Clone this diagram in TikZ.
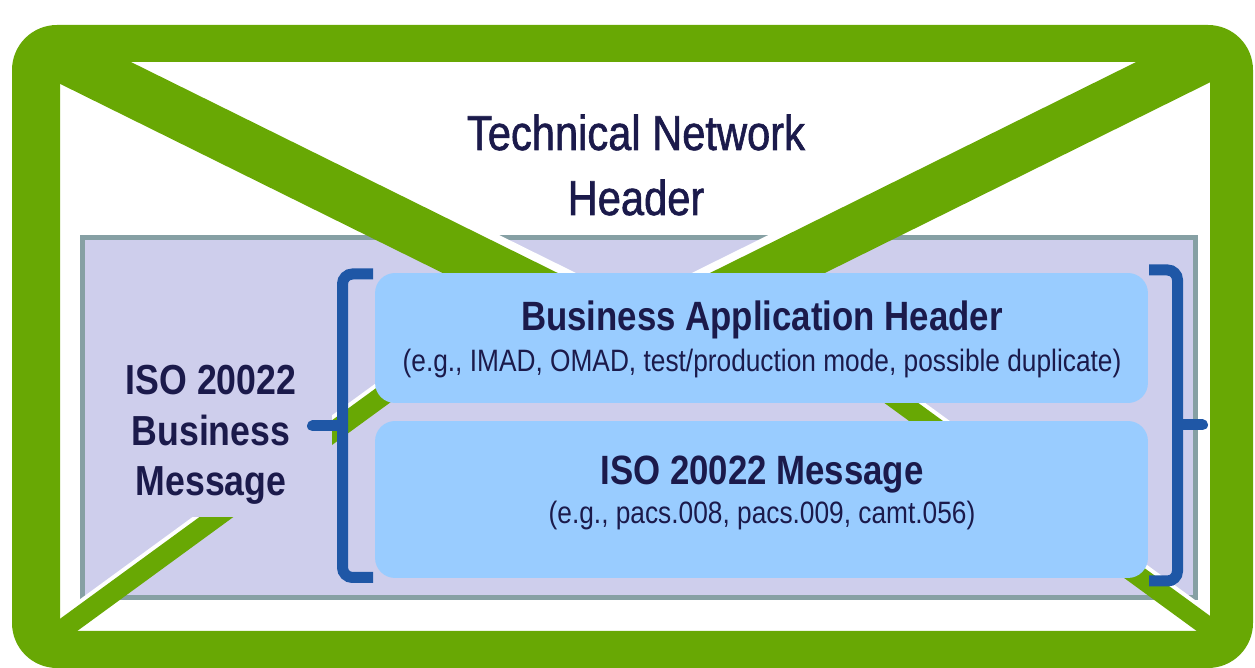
\documentclass[tikz,border=0pt]{standalone}
\usepackage{fontspec}
\setmainfont{Liberation Sans}[FakeStretch=0.85]
\newfontfamily\titlefont{Liberation Sans}[FakeStretch=0.85, FakeBold=1.2]
\definecolor{framegreen}{RGB}{104,168,4}
\definecolor{lav}{RGB}{206,206,236}
\definecolor{lavborder}{RGB}{134,160,164}
\definecolor{boxblue}{RGB}{153,204,255}
\definecolor{brack}{RGB}{31,87,166}
\definecolor{navy}{RGB}{27,26,75}
\tikzset{
  bandtop/.style={line width=1.02cm, line cap=butt},
  bandbot/.style={line width=0.4cm, line cap=butt},
  bluebox/.style={rectangle, rounded corners=0.4cm, fill=boxblue, draw=none, inner sep=0pt, minimum width=15.46cm},
  boxtitle/.style={anchor=base, inner sep=0pt, text=navy, font=\bfseries\fontsize{23.3}{28}\selectfont},
  boxsub/.style={anchor=base, inner sep=0pt, text=navy, font=\fontsize{17.6}{21}\selectfont},
  bracketline/.style={draw=brack, line width=0.22cm, rounded corners=0.2cm, line cap=butt},
  stub/.style={draw=brack, line width=0.22cm, line cap=round},
}
\begin{document}
\begin{tikzpicture}[x=0.02cm, y=-0.02cm]
\useasboundingbox (0,0) rectangle (1255,668);
\fill[white] (0,0) rectangle (1255,668);
% lavender message area
\draw[fill=lav, draw=lavborder, line width=0.1cm] (82.5,237.5) rectangle (1195.5,598);
% envelope diagonals
\begin{scope}
  \clip (60,62) rectangle (1210,631);
  \draw[bandtop, white] (40,36.5) -- (640,333.1);
  \draw[bandtop, white] (1230,35) -- (627,333.5);
  \draw[bandbot, white] (40,640.8) -- (520,290.4);
  \draw[bandbot, white] (1230,637.9) -- (750,287.5);
  \draw[bandtop, framegreen] (40,45.5) -- (640,342.1);
  \draw[bandtop, framegreen] (1230,44) -- (627,342.5);
  \draw[bandbot, framegreen] (40,645.8) -- (520,295.4);
  \draw[bandbot, framegreen] (1230,642.9) -- (750,292.5);
\end{scope}
% green frame
\fill[framegreen, even odd rule] [rounded corners=0.9cm] (12,25) rectangle (1253,668) [sharp corners] (60,62) rectangle (1210,631);
% title (base anchor = baseline of the last line)
\node[anchor=base, inner sep=0pt, align=center, text=navy, font=\titlefont\fontsize{27.9}{37}\selectfont] (tnh) at (636,215) {Technical Network\\Header};
% left label
\node[anchor=base, align=center, text=navy, fill=lav, inner xsep=0pt, inner ysep=0.24cm, minimum width=4.84cm, font=\bfseries\fontsize{23.9}{29}\selectfont] (isobm) at (211,496) {ISO 20022\\Business\\Message};
% boxes
\node[bluebox, minimum height=2.6cm] (bah) at (761.5,338) {};
\node[bluebox, minimum height=3.14cm] (msg) at (761.5,499.5) {};
\node[boxtitle] (bahtitle) at (762,331) {Business Application Header};
\node[boxsub] (bahsub) at (762,372) {(e.g., IMAD, OMAD, test/production mode, possible duplicate)};
\node[boxtitle] (msgtitle) at (762,485) {ISO 20022 Message};
\node[boxsub] (msgsub) at (762,524) {(e.g., pacs.008, pacs.009, camt.056)};
% brackets
\draw[bracketline] (373,274) -- (342.5,274) -- (342.5,577.5) -- (373,577.5);
\draw[stub] (342.5,426) -- (312.5,426);
\draw[bracketline] (1149,270) -- (1177.5,270) -- (1177.5,581) -- (1149,581);
\draw[stub] (1177.5,425) -- (1202.5,425);
\end{tikzpicture}
\end{document}
